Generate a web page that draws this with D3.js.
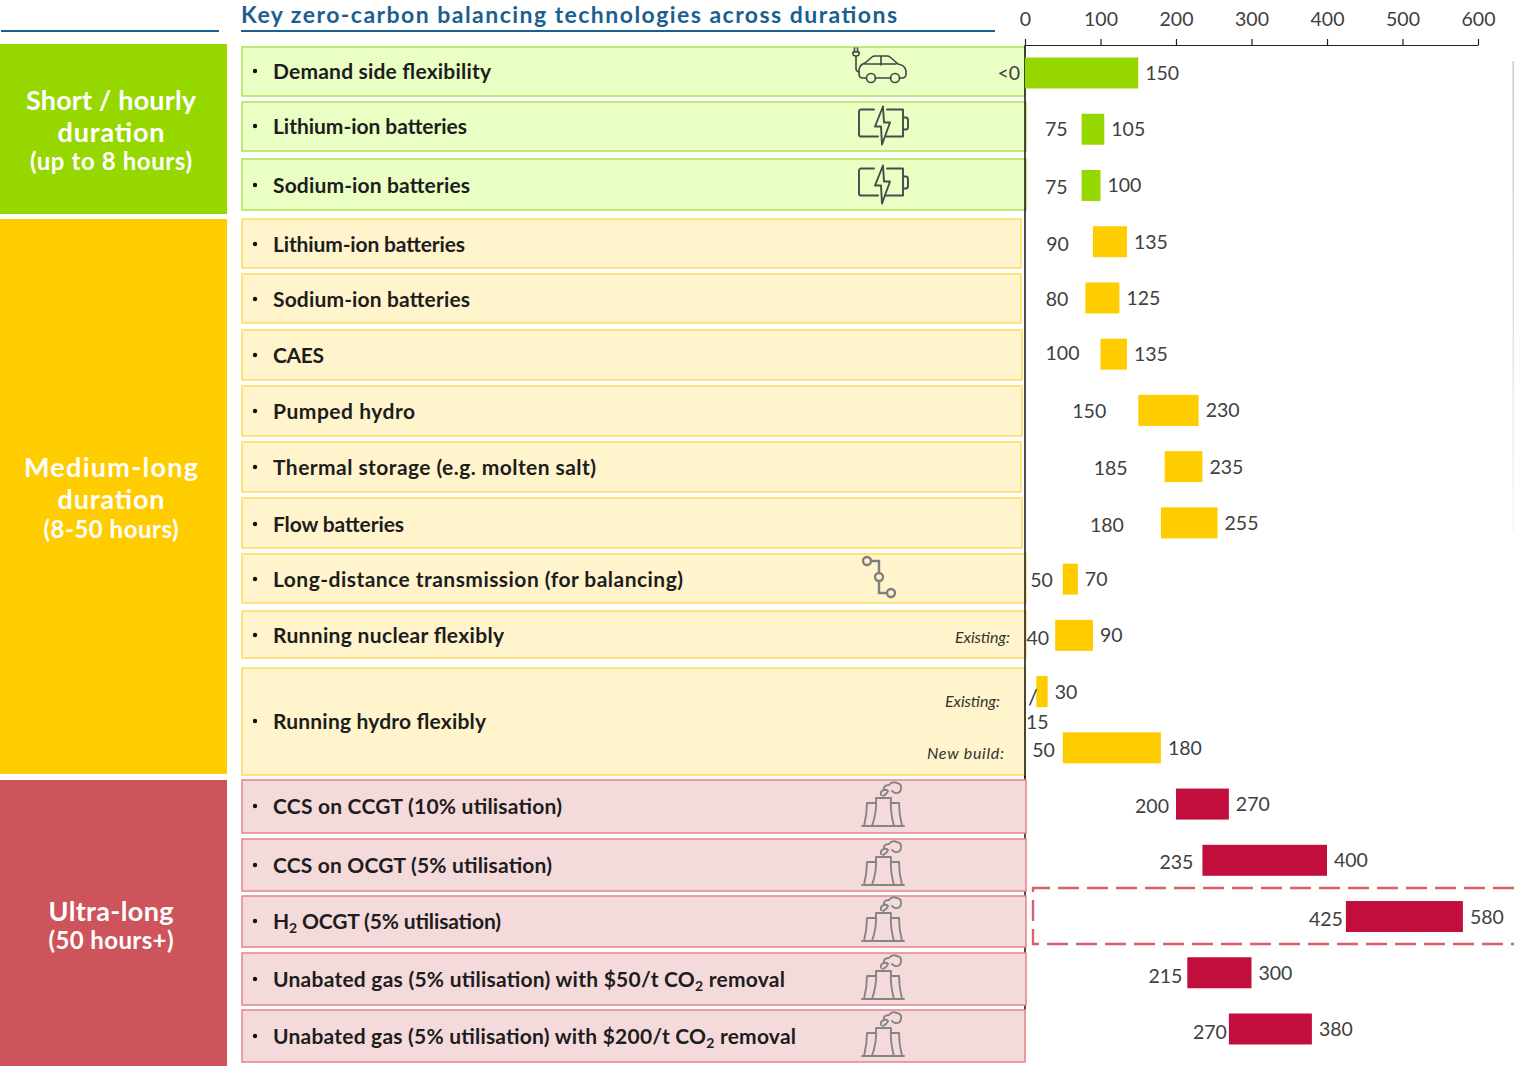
<!DOCTYPE html>
<html>
<head>
<meta charset="utf-8">
<script src="https://cdn.jsdelivr.net/npm/d3@7"></script>
<style>
  html, body { margin: 0; padding: 0; background: #fff; }
  svg { display: block; }
  text { font-family: "Lato", "Open Sans", sans-serif; }
</style>
</head>
<body>
<svg id="chart" width="1514" height="1066">
  <defs>
    <linearGradient id="edgeFade" x1="0" y1="0" x2="0" y2="1">
      <stop offset="0" stop-color="#c9c9c9"></stop>
      <stop offset="1" stop-color="#f6f6f6"></stop>
    </linearGradient>
  </defs>
</svg>
<script>
// Levelised cost ranges ($/MWh) of the balancing technologies, one bar per row.
const barKeys   = ["dsf", "liS", "naS", "liM", "naM", "caes", "hydro", "thermal", "flow", "hvdc", "nuclear", "hydroEx", "hydroNew", "ccgt", "ocgt", "h2", "gas50", "gas200"];
const barGroups = ["short", "short", "short", "med", "med", "med", "med", "med", "med", "med", "med", "med", "med", "ultra", "ultra", "ultra", "ultra", "ultra"];
const barLow    = [0, 75, 75, 90, 80, 100, 150, 185, 180, 50, 40, 15, 50, 200, 235, 425, 215, 270];
const barHigh   = [150, 105, 100, 135, 125, 135, 230, 235, 255, 70, 90, 30, 180, 270, 400, 580, 300, 380];
const lowLabels = ["<0", "75", "75", "90", "80", "100", "150", "185", "180", "50", "40", "", "50", "200", "235", "425", "215", "270"];

// Gap between a bar's start and its low-end label, and the label's vertical nudge.
const lowLabelGap = [5, 14, 14, 24, 17, 21, 32, 37, 37, 10, 6, 0, 8, 7, 9, 3, 5, 2];
const lowLabelDy  = [0, 0, 2, 2, 1, -1, 1, 1, 2, 1, 3, 0, 2, 2, 2, 2, 3, 3];

const axisTicks = [0, 100, 200, 300, 400, 500, 600];
const title = "Key zero-carbon balancing technologies across durations";

// Technology panels: label runs, then top, bottom, right edge, text centre and text width.
const rowNames = [
  [["Demand side flexibility"]],
  [["Lithium-ion batteries"]],
  [["Sodium-ion batteries"]],
  [["Lithium-ion batteries"]],
  [["Sodium-ion batteries"]],
  [["CAES"]],
  [["Pumped hydro"]],
  [["Thermal storage (e.g. molten salt)"]],
  [["Flow batteries"]],
  [["Long-distance transmission (for balancing)"]],
  [["Running nuclear flexibly"]],
  [["Running hydro flexibly"]],
  [["CCS on CCGT (10% utilisation)"]],
  [["CCS on OCGT (5% utilisation)"]],
  [["H"], ["2", "sub"], [" OCGT (5% utilisation)"]],
  [["Unabated gas (5% utilisation) with $50/t CO"], ["2", "sub"], [" removal"]],
  [["Unabated gas (5% utilisation) with $200/t CO"], ["2", "sub"], [" removal"]]
];
const rowGroups = ["short", "short", "short", "med", "med", "med", "med", "med", "med", "med", "med", "med", "ultra", "ultra", "ultra", "ultra", "ultra"];
const rowTop    = [47, 102, 159, 219, 274, 330, 386, 442, 498, 554, 611, 668, 780, 839, 896, 953, 1010];
const rowBottom = [96, 151, 210, 268, 323, 380, 436, 492, 548, 603, 658, 775, 833, 891, 947, 1005, 1062];
const rowRight  = [1025, 1026, 1026, 1021, 1021, 1022, 1022, 1021, 1022, 1026, 1026, 1025, 1026, 1026, 1026, 1026, 1025];
const rowTextY  = [71, 126, 185, 244, 299, 355, 411, 467, 524, 579, 635, 721, 806, 865, 921, 979, 1036];
const rowTextW  = [218, 194, 197, 192, 197, 51, 142, 323, 131, 410, 231, 213, 289, 279, 228, 512, 523];
const rowIcons  = ["car", "battery", "battery", null, null, null, null, null, null, "grid", null, null, "plant", "plant", "plant", "plant", "plant"];

const groupNames  = ["short", "med", "ultra"];
const groupBlocks = [[44, 214], [219, 774], [780, 1066]];
// Block captions: text, centre y, font size, width.
const groupText = [
  [["Short / hourly", 100, 27, 170], ["duration", 132, 27, 107], ["(up to 8 hours)", 161, 24, 162]],
  [["Medium-long", 467, 27, 174], ["duration", 499, 27, 107], ["(8-50 hours)", 529, 24, 135]],
  [["Ultra-long", 911, 27, 125], ["(50 hours+)", 940, 24, 125]]
];

const blockColor = d3.scaleOrdinal(groupNames, ["#97d700", "#ffcc00", "#cd545b"]);
const panelFill  = d3.scaleOrdinal(groupNames, ["#eaffc4", "#fff4cb", "#f5dadc"]);
const panelLine  = d3.scaleOrdinal(groupNames, ["#b4e45a", "#ffdc66", "#e58a90"]);
const barColor   = d3.scaleOrdinal(groupNames, ["#97d700", "#ffcc00", "#c20e3c"]);

const svg = d3.select("#chart");
const x = d3.scaleLinear().domain([0, 600]).range([1025, 1478]);
const y = d3.scalePoint().domain(barKeys).range([73, 1029]);
const barHeight = 31;
const NUMBER = 19.5, INK = "#404040";

// Section heading and its two rules
svg.append("text").attr("x", 241).attr("y", 23).attr("font-size", 23).attr("font-weight", 700)
  .attr("fill", "#1c5f8f").attr("textLength", 656).attr("lengthAdjust", "spacing").text(title);
[[1, 219], [241, 995]].forEach(([a, b]) => {
  svg.append("line").attr("x1", a).attr("x2", b).attr("y1", 31).attr("y2", 31)
    .attr("stroke", "#1c5f8f").attr("stroke-width", 2);
});

// Faint rule down the right-hand edge
svg.append("rect").attr("x", 1512.5).attr("y", 61).attr("width", 1.5).attr("height", 470)
  .attr("fill", "url(#edgeFade)");

// Duration blocks
groupNames.forEach((g, i) => {
  svg.append("rect").attr("x", 0).attr("width", 227)
    .attr("y", groupBlocks[i][0]).attr("height", groupBlocks[i][1] - groupBlocks[i][0])
    .attr("fill", blockColor(g));
  groupText[i].forEach(([t, ty, size, w]) => {
    svg.append("text").attr("x", 111).attr("y", ty).attr("dy", "0.36em")
      .attr("text-anchor", "middle").attr("font-size", size).attr("font-weight", 700)
      .attr("textLength", w).attr("lengthAdjust", "spacing")
      .attr("fill", "#fff").text(t);
  });
});

// The zero line passes behind the ultra-long panels
svg.append("line").attr("x1", x(0)).attr("x2", x(0)).attr("y1", 775).attr("y2", 1010)
  .attr("stroke", "#111").attr("stroke-width", 1.5);

// Panels
const panels = svg.append("g").selectAll("g").data(rowNames).join("g");
panels.append("rect")
  .attr("x", 242).attr("y", (d, i) => rowTop[i])
  .attr("width", (d, i) => rowRight[i] - 242)
  .attr("height", (d, i) => rowBottom[i] - rowTop[i])
  .attr("fill", (d, i) => panelFill(rowGroups[i]))
  .attr("stroke", (d, i) => panelLine(rowGroups[i]))
  .attr("stroke-width", 1.6);
panels.append("circle").attr("cx", 255).attr("cy", (d, i) => rowTextY[i]).attr("r", 2.2).attr("fill", "#111");
const rowLabel = panels.append("text").attr("x", 273).attr("y", (d, i) => rowTextY[i]).attr("dy", "0.36em")
  .attr("font-size", 21).attr("font-weight", 700).attr("fill", "#1d1d1d")
  .attr("textLength", (d, i) => rowTextW[i]).attr("lengthAdjust", "spacing");
rowLabel.each(function (parts) {
  const node = d3.select(this);
  parts.forEach(([t, kind]) => {
    const span = node.append("tspan").text(t);
    if (kind === "sub") span.attr("font-size", 14).attr("baseline-shift", "-25%");
  });
});

// ...and in front of the other rows
svg.append("line").attr("x1", x(0)).attr("x2", x(0)).attr("y1", 45).attr("y2", 778)
  .attr("stroke", "#111").attr("stroke-width", 1.5);

// Row qualifiers for the existing-plant and new-build ranges
[["Existing:", 1010, 637, 55], ["Existing:", 1000, 701, 55], ["New build:", 1004, 753, 77]].forEach(([t, ex, ey, w]) => {
  svg.append("text").attr("x", ex).attr("y", ey).attr("dy", "0.36em").attr("text-anchor", "end")
    .attr("font-size", 16).attr("font-style", "italic").attr("fill", "#333")
    .attr("textLength", w).attr("lengthAdjust", "spacing").text(t);
});

// Pictograms
function icon(px, py, color, width, paths) {
  const g = svg.append("g").attr("transform", `translate(${px},${py})`)
    .attr("stroke", color).attr("stroke-width", width)
    .attr("fill", "none").attr("stroke-linejoin", "round").attr("stroke-linecap", "round");
  paths.forEach(p => g.append("path").attr("d", p));
}
const circle = (cx, cy, r) => `M${cx - r},${cy}a${r},${r} 0 1,0 ${2 * r},0a${r},${r} 0 1,0 ${-2 * r},0`;
const drawIcon = {
  car: (ty) => icon(853, ty - 24, "#444", 1.6, [
    "M0,5h6M1.5,1v4M4.5,1v4M0,5v2q0,2 3,2q3,0 3,-2v-2M3,9v13q0,2 3,3",
    "M13,31H10q-4,0 -4,-4v-3q0,-6 6,-8l7,-6q1,-1 3,-1h12q2,0 3,1l8,7q7,1 8,7v3q0,4 -4,4h-2M22,31h16M28,9v9M12,17h31",
    circle(18, 31, 4.5), circle(42, 31, 4.5)
  ]),
  battery: (ty) => icon(859, ty - 16.5, "#4a4a4a", 1.9, [
    "M15,0H2a2,2 0 0 0 -2,2V25a2,2 0 0 0 2,2H19M28,0h16V27H27",
    "M44,8h3q2,0 2,3v6q0,3 -2,3h-3",
    "M24,-3L16,17H22L23,35L31,13H25L24,-3"
  ]),
  grid: (ty) => icon(863, ty - 23, "#7f7f7f", 2.4, [
    circle(4, 5, 4), circle(16, 21, 4), circle(28, 37, 4),
    "M8,5h8v12M16,25v12h8"
  ]),
  plant: (ty) => icon(862, ty - 24, "#858585", 1.9, [
    "M0,44h42M2,44Q5,32 5,21h9M14,16h15Q28,30 32,44M14,16Q15,30 10,44M29,21h8Q37,32 40,44",
    "M19,13q-1,-4 3,-5q-1,-5 5,-5q3,-4 8,-2q5,1 4,6q-1,5 -6,4q-2,-1 -3,-2M22,8q3,-1 4,1q-1,3 -5,5"
  ])
};
rowIcons.forEach((k, i) => { if (k) drawIcon[k](rowTextY[i]); });

// Range bars
svg.append("g").selectAll("rect").data(barKeys).join("rect")
  .attr("x", (d, i) => x(barLow[i]))
  .attr("y", d => y(d) - barHeight / 2)
  .attr("width", (d, i) => x(barHigh[i]) - x(barLow[i]))
  .attr("height", barHeight)
  .attr("fill", (d, i) => barColor(barGroups[i]));

// Range end labels
svg.append("g").selectAll("text").data(barKeys).join("text")
  .attr("x", (d, i) => x(barHigh[i]) + 7)
  .attr("y", d => y(d)).attr("dy", "0.36em")
  .attr("font-size", NUMBER).attr("fill", INK)
  .text((d, i) => barHigh[i]);
svg.append("g").selectAll("text").data(barKeys).join("text")
  .attr("x", (d, i) => x(barLow[i]) - lowLabelGap[i])
  .attr("y", (d, i) => y(d) + lowLabelDy[i]).attr("dy", "0.36em")
  .attr("text-anchor", "end").attr("font-size", NUMBER).attr("fill", INK)
  .text((d, i) => lowLabels[i]);

// Shared low value for the two hydro ranges, stacked under a slash
svg.append("text").attr("x", 1028).attr("y", 705).attr("font-size", 22).attr("fill", INK).text("/");
svg.append("text").attr("x", 1026).attr("y", 729).attr("font-size", NUMBER).attr("fill", INK).text("15");

// Highlight around the hydrogen range, open on the right
svg.append("path")
  .attr("d", "M1514,888H1033V944H1514")
  .attr("fill", "none").attr("stroke", "#d9606a").attr("stroke-width", 2.4)
  .attr("stroke-dasharray", "21 8");

// Cost axis along the top
const axis = d3.axisTop(x).tickValues(axisTicks).tickSize(6).tickSizeOuter(0);
const axisG = svg.append("g").attr("transform", "translate(0,45)").call(axis);
axisG.selectAll("path, line").attr("stroke", "#222").attr("stroke-width", 1.2);
axisG.selectAll("text").attr("font-size", NUMBER).attr("fill", INK).attr("dy", 0).attr("y", -19);
</script>
</body>
</html>
